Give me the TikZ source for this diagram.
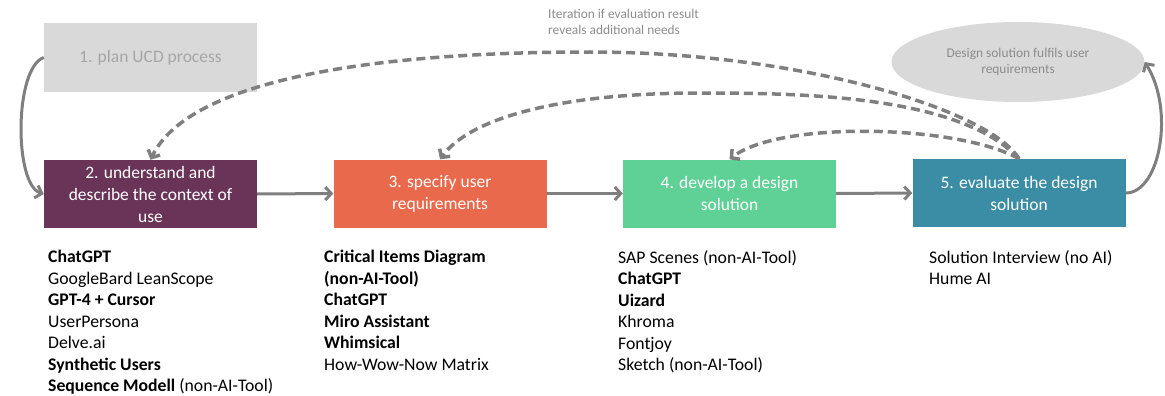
\documentclass[tikz,border=0pt]{standalone}
\usepackage{fontspec}
\setmainfont{Carlito}
\usetikzlibrary{arrows.meta,shapes.geometric}
\definecolor{boxgrey}{HTML}{D9D9D9}
\definecolor{greytext}{HTML}{A6A6A6}
\definecolor{darkgreytext}{HTML}{8C8C8C}
\definecolor{purplebox}{HTML}{6A3459}
\definecolor{orangebox}{HTML}{E8694B}
\definecolor{greenbox}{HTML}{5FD196}
\definecolor{tealbox}{HTML}{3A8DA4}
\definecolor{conn}{HTML}{7F7F7F}
\tikzset{
  stepbox/.style={rectangle, inner sep=0pt, minimum width=213pt, minimum height=68pt,
    align=center, text=white, font=\fontsize{17.5}{22}\selectfont},
  toollist/.style={anchor=north west, inner sep=0pt, align=left, text=black,
    font=\fontsize{17.7}{21.5}\selectfont},
  smalltext/.style={inner sep=0pt, text=darkgreytext, font=\fontsize{13.4}{16}\selectfont},
  flow/.style={draw=conn, line width=3pt, -{Straight Barb[length=6pt,width=13pt]}},
  iter/.style={draw=conn, line width=3.5pt, dash pattern=on 9pt off 5pt,
    -{Straight Barb[length=6pt,width=13pt]}},
}
\begin{document}
\begin{tikzpicture}[x=1pt,y=-1pt]
\useasboundingbox (0,0) rectangle (1165,396);
% boxes
\node[stepbox, fill=boxgrey, text=greytext, minimum height=69pt] (b1) at (150.5,57.5) {1. plan UCD process};
\node[stepbox, fill=purplebox] (b2) at (150.5,194) {2. understand and\\describe the context of\\use};
\node[stepbox, fill=orangebox] (b3) at (440,193.5) {3. specify user\\requirements};
\node[stepbox, fill=greenbox] (b4) at (729.5,193.5) {4. develop a design\\solution};
\node[stepbox, fill=tealbox] (b5) at (1019,193) {5. evaluate the design\\solution};
% ellipse
\node[ellipse, fill=boxgrey, inner sep=0pt, minimum width=253pt, minimum height=80pt] (goal) at (1018,62) {};
\node[smalltext, align=center] (goaltext) at (1018,62) {Design solution fulfils user\\requirements};
% iteration label
\node[smalltext, align=left, anchor=north west] (iterlabel) at (548,9) {Iteration if evaluation result\\reveals additional needs};
% flow connectors
\draw[flow] (b1.west) .. controls (14,68) and (14,185) .. (b2.west);
\draw[flow] (b2.east) -- (b3.west);
\draw[flow] (b3.east) -- (b4.west);
\draw[flow] (b4.east) -- (b5.west);
\draw[flow] (b5.east) .. controls (1160,193) and (1175,110) .. (goal.east);
% iteration connectors
\coordinate (peakA) at (590,52);
\coordinate (peakB) at (700,93);
\draw[iter] (b5.north) .. controls (990,110) and (800,52) .. (peakA)
  .. controls (380,52) and (190,78) .. (b2.north);
\draw[iter] (b5.north) .. controls (960,95) and (800,93) .. (peakB)
  .. controls (560,93) and (470,118) .. (b3.north);
\draw[iter] (b5.north) .. controls (960,125) and (780,120) .. (b4.north);
% tool lists
\node[toollist] (l2) at (48,250) {\textbf{ChatGPT}\\GoogleBard LeanScope\\\textbf{GPT-4 + Cursor}\\UserPersona\\Delve.ai\\\textbf{Synthetic Users}\\\textbf{Sequence Modell} (non-AI-Tool)};
\node[toollist] (l3) at (324,250) {\textbf{Critical Items Diagram}\\\textbf{(non-AI-Tool)}\\\textbf{ChatGPT}\\\textbf{Miro Assistant}\\\textbf{Whimsical}\\How-Wow-Now Matrix};
\node[toollist] (l4) at (618,250) {SAP Scenes (non-AI-Tool)\\\textbf{ChatGPT}\\\textbf{Uizard}\\Khroma\\Fontjoy\\Sketch (non-AI-Tool)};
\node[toollist] (l5) at (929,250) {Solution Interview (no AI)\\Hume AI};
\end{tikzpicture}
\end{document}
